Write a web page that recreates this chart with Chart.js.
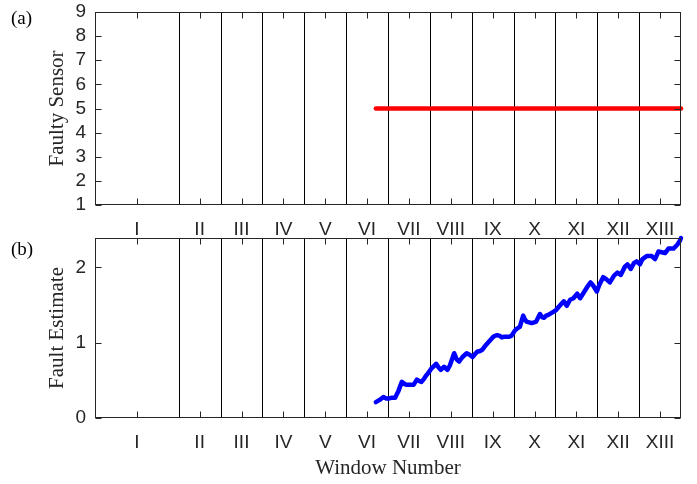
<!DOCTYPE html>
<html>
<head>
<meta charset="utf-8">
<script src="https://cdn.jsdelivr.net/npm/chart.js@4/dist/chart.umd.min.js"></script>
<style>
  html, body { margin: 0; padding: 0; background: #fff; overflow: hidden; }
  #wrap { position: relative; width: 697px; height: 484px; overflow: hidden; }
  #wrap canvas { position: absolute; left: 0; }
  #sensorChart { top: -20px; }
  #estimateChart { top: 0; }
</style>
</head>
<body>
<div id="wrap">
  <canvas id="sensorChart" width="697" height="504"></canvas>
  <canvas id="estimateChart" width="697" height="484"></canvas>
</div>
<script>
// Window labels and where they sit on the time axis
const windowLabels = ['I', 'II', 'III', 'IV', 'V', 'VI', 'VII', 'VIII', 'IX', 'X', 'XI', 'XII', 'XIII'];
const windowCenters = [1, 2.5, 3.5, 4.5, 5.5, 6.5, 7.5, 8.5, 9.5, 10.5, 11.5, 12.5, 13.5];
const windowBounds = [2, 3, 4, 5, 6, 7, 8, 9, 10, 11, 12, 13];
const timeMin = 0;
const timeMax = 14;

// (a) isolated faulty sensor index
const sensorTicks = [1, 2, 3, 4, 5, 6, 7, 8, 9];
const sensorMin = 1;
const sensorMax = 9;
const sensorTime = [6.71, 14.0];
const sensorIndex = [5, 5];

// (b) estimated fault magnitude
const estimateTicks = [0, 1, 2];
const estimateMin = 0;
const estimateMax = 2.39;
const estimateTime = [
  6.71, 6.80, 6.89, 6.96, 7.03, 7.10, 7.17, 7.25, 7.33, 7.40, 7.45, 7.53, 7.61, 7.69, 7.75, 7.80,
  7.86, 7.92, 7.98, 8.04, 8.10, 8.15, 8.21, 8.26, 8.34, 8.42, 8.48, 8.53, 8.58, 8.64, 8.70, 8.78,
  8.84, 8.88, 8.95, 9.02, 9.08, 9.13, 9.20, 9.26, 9.34, 9.42, 9.50, 9.55, 9.61, 9.67, 9.72, 9.78,
  9.84, 9.90, 9.95, 10.03, 10.09, 10.15, 10.23, 10.27, 10.31, 10.37, 10.43, 10.49, 10.54, 10.63,
  10.68, 10.73, 10.78, 10.83, 10.89, 10.95, 11.01, 11.07, 11.15, 11.20, 11.27, 11.35, 11.43, 11.52,
  11.59, 11.67, 11.76, 11.84, 11.90, 11.99, 12.05, 12.14, 12.22, 12.30, 12.40, 12.48, 12.56, 12.66,
  12.72, 12.80, 12.88, 12.94, 13.02, 13.08, 13.18, 13.24, 13.30, 13.38, 13.46, 13.54, 13.62, 13.70,
  13.76, 13.82, 13.91, 13.97, 14.0
];
const estimateValue = [
  0.21, 0.24, 0.28, 0.26, 0.26, 0.27, 0.27, 0.36, 0.48, 0.45, 0.44, 0.44, 0.44, 0.51, 0.49, 0.48,
  0.52, 0.57, 0.61, 0.66, 0.69, 0.72, 0.67, 0.64, 0.68, 0.64, 0.70, 0.78, 0.86, 0.78, 0.75, 0.81,
  0.84, 0.86, 0.84, 0.81, 0.85, 0.88, 0.89, 0.91, 0.97, 1.02, 1.07, 1.09, 1.10, 1.09, 1.07, 1.08,
  1.08, 1.08, 1.09, 1.16, 1.19, 1.21, 1.36, 1.31, 1.28, 1.27, 1.26, 1.27, 1.28, 1.38, 1.34, 1.33,
  1.36, 1.37, 1.39, 1.41, 1.43, 1.47, 1.52, 1.55, 1.49, 1.57, 1.59, 1.65, 1.59, 1.66, 1.74, 1.80,
  1.76, 1.68, 1.77, 1.87, 1.84, 1.80, 1.89, 1.93, 1.90, 2.01, 2.04, 1.98, 2.06, 2.08, 2.04, 2.11,
  2.15, 2.15, 2.15, 2.11, 2.21, 2.20, 2.19, 2.25, 2.25, 2.25, 2.30, 2.35, 2.39
];

const axisColor = '#262626';
const sansFont = 'Liberation Sans, Arial, sans-serif';
const serifFont = 'Liberation Serif, Times New Roman, serif';

Chart.defaults.font.family = sansFont;
Chart.defaults.font.size = 19;
Chart.defaults.color = axisColor;

function toPoints(xs, ys) {
  return xs.map((x, i) => ({ x: x, y: ys[i] }));
}

// Frame, inward ticks on all four sides, window boundaries and panel tag
const panelDecor = {
  id: 'panelDecor',
  beforeDatasetsDraw(chart) {
    const { ctx, chartArea: a, scales: { x } } = chart;
    ctx.save();
    ctx.strokeStyle = '#000';
    ctx.lineWidth = 1;
    ctx.beginPath();
    windowBounds.forEach(v => {
      const px = Math.round(x.getPixelForValue(v)) + 0.5;
      ctx.moveTo(px, a.top);
      ctx.lineTo(px, a.bottom);
    });
    ctx.stroke();
    ctx.restore();
  },
  afterDatasetsDraw(chart) {
    const { ctx, chartArea: a, scales: { x, y } } = chart;
    const tl = 6;
    ctx.save();
    ctx.strokeStyle = axisColor;
    ctx.lineWidth = 1;
    const L = Math.round(a.left) + 0.5, R = Math.round(a.right) - 0.5;
    const T = Math.round(a.top) + 0.5, B = Math.round(a.bottom) - 0.5;
    ctx.beginPath();
    x.ticks.forEach(t => {
      const px = Math.round(x.getPixelForValue(t.value)) + 0.5;
      ctx.moveTo(px, B); ctx.lineTo(px, B - tl);
      ctx.moveTo(px, T); ctx.lineTo(px, T + tl);
    });
    y.ticks.forEach(t => {
      const py = Math.round(y.getPixelForValue(t.value)) + 0.5;
      ctx.moveTo(L, py); ctx.lineTo(L + tl, py);
      ctx.moveTo(R, py); ctx.lineTo(R - tl, py);
    });
    ctx.stroke();
    ctx.strokeRect(L, T, R - L, B - T);
    ctx.restore();
  },
  afterDraw(chart, args, opts) {
    const ctx = chart.ctx;
    ctx.save();
    ctx.fillStyle = '#000';
    ctx.font = '19px ' + serifFont;
    ctx.textBaseline = 'alphabetic';
    ctx.textAlign = 'left';
    ctx.fillText(opts.tag, opts.tagX, opts.tagY);
    ctx.restore();
  }
};

function makeOptions(cfg) {
  return {
    responsive: false,
    animation: false,
    events: [],
    layout: { padding: cfg.padding },
    plugins: {
      legend: { display: false },
      tooltip: { enabled: false },
      panelDecor: { tag: cfg.tag, tagX: 11, tagY: cfg.tagY }
    },
    scales: {
      x: {
        type: 'linear',
        min: timeMin,
        max: timeMax,
        grid: { display: false, drawTicks: false },
        border: { display: false },
        afterBuildTicks: s => { s.ticks = windowCenters.map(v => ({ value: v })); },
        afterFit: s => { s.height = cfg.xHeight; },
        ticks: {
          autoSkip: false,
          maxRotation: 0,
          padding: 13,
          callback: (v, i) => windowLabels[i]
        },
        title: cfg.xTitle ? {
          display: true,
          text: cfg.xTitle,
          font: { family: serifFont, size: 21 },
          color: axisColor,
          padding: { top: 0, bottom: 3 }
        } : { display: false }
      },
      y: {
        type: 'linear',
        min: cfg.yMin,
        max: cfg.yMax,
        grid: { display: false, drawTicks: false },
        border: { display: false },
        afterBuildTicks: s => { s.ticks = cfg.yTicks.map(v => ({ value: v })); },
        afterFit: s => { s.width = 95; },
        ticks: { autoSkip: false, padding: 9, callback: v => String(v) },
        title: {
          display: true,
          text: cfg.yTitle,
          font: { family: serifFont, size: 21 },
          color: axisColor,
          padding: { top: 45, bottom: 0 }
        }
      }
    }
  };
}

// Upper panel canvas sits 20px above the page so its plot top lands at 12px
new Chart(document.getElementById('sensorChart'), {
  type: 'scatter',
  data: {
    datasets: [{
      data: toPoints(sensorTime, sensorIndex),
      showLine: true,
      borderColor: '#ff0000',
      borderWidth: 4.5,
      borderCapStyle: 'round',
      pointRadius: 0,
      clip: false
    }]
  },
  options: makeOptions({
    padding: { top: 32, left: 0, right: 16, bottom: 244 },
    xHeight: 35,
    yMin: sensorMin, yMax: sensorMax, yTicks: sensorTicks,
    yTitle: 'Faulty Sensor',
    tag: '(a)', tagY: 44
  }),
  plugins: [panelDecor]
});

new Chart(document.getElementById('estimateChart'), {
  type: 'scatter',
  data: {
    datasets: [{
      data: toPoints(estimateTime, estimateValue),
      showLine: true,
      borderColor: '#0000ff',
      borderWidth: 4.5,
      borderCapStyle: 'round',
      borderJoinStyle: 'round',
      pointRadius: 0,
      tension: 0,
      clip: false
    }]
  },
  options: makeOptions({
    padding: { top: 238, left: 0, right: 16, bottom: 0 },
    xHeight: 66,
    yMin: estimateMin, yMax: estimateMax, yTicks: estimateTicks,
    yTitle: 'Fault Estimate',
    xTitle: 'Window Number',
    tag: '(b)', tagY: 255
  }),
  plugins: [panelDecor]
});
</script>
</body>
</html>
